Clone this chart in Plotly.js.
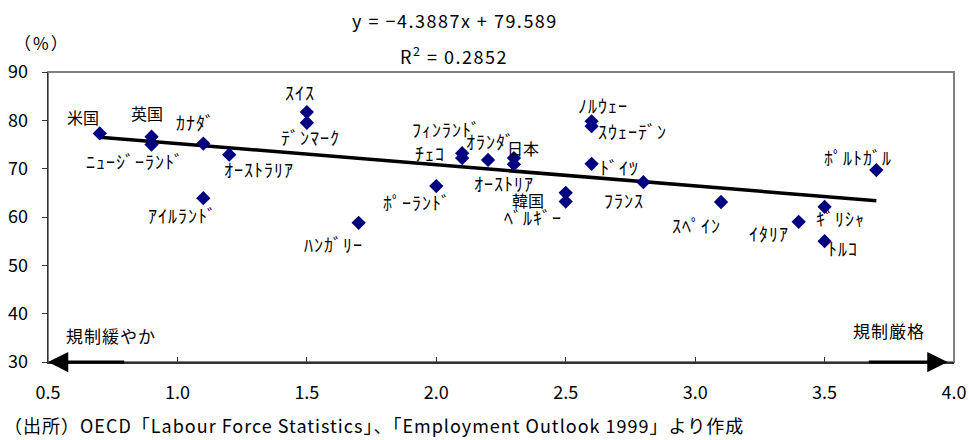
<!DOCTYPE html>
<html>
<head>
<meta charset="utf-8">
<script src="https://cdn.plot.ly/plotly-3.0.1.min.js"></script>
<style>
  html, body { margin: 0; padding: 0; background: #fff; }
  #chart { width: 969px; height: 440px; }
</style>
</head>
<body>
<div id="chart"></div>
<script>
// 雇用保護規制の強さ（横軸）と就業率（縦軸, %）
const countries = ['米国', '英国', 'ﾆｭｰｼﾞｰﾗﾝﾄﾞ', 'ｶﾅﾀﾞ', 'ｱｲﾙﾗﾝﾄﾞ', 'ｵｰｽﾄﾗﾘｱ',
  'ｽｲｽ', 'ﾃﾞﾝﾏｰｸ', 'ﾊﾝｶﾞﾘｰ', 'ﾎﾟｰﾗﾝﾄﾞ', 'ﾌｨﾝﾗﾝﾄﾞ', 'ﾁｪｺ', 'ｵﾗﾝﾀﾞ', '日本',
  'ｵｰｽﾄﾘｱ', '韓国', 'ﾍﾞﾙｷﾞｰ', 'ﾉﾙｳｪｰ', 'ｽｳｪｰﾃﾞﾝ', 'ﾄﾞｲﾂ', 'ﾌﾗﾝｽ', 'ｽﾍﾟｲﾝ',
  'ｲﾀﾘｱ', 'ｷﾞﾘｼｬ', 'ﾄﾙｺ', 'ﾎﾟﾙﾄｶﾞﾙ'];
const regulation = [0.7, 0.9, 0.9, 1.1, 1.1, 1.2, 1.5, 1.5, 1.7, 2.0, 2.1, 2.1, 2.2, 2.3,
  2.3, 2.5, 2.5, 2.6, 2.6, 2.6, 2.8, 3.1, 3.4, 3.5, 3.5, 3.7];
const employment = [77.3, 76.6, 75.0, 75.2, 63.9, 72.9, 81.7, 79.5, 58.8, 66.4, 73.2, 72.2,
  71.8, 72.2, 70.9, 65.0, 63.2, 79.8, 78.8, 71.0, 67.2, 63.1, 59.0, 62.1, 55.0, 69.7];

// 回帰式 y = a x + b と決定係数
const slope = -4.3887;
const intercept = 79.589;
const rSquared = 0.2852;

const xTicks = [0.5, 1.0, 1.5, 2.0, 2.5, 3.0, 3.5, 4.0];
const yTicks = [30, 40, 50, 60, 70, 80, 90];

// ラベルの位置（点からのピクセルずれ: [右, 下]）
const labelOffsets = [[-17, -16], [-5, -24], [-17, 16], [-8, -22], [-21, 17], [30, 14],
  [-7, -20], [4, 14], [-25, 21], [-19, 16], [-16, -24], [-32, -5], [2, -19], [9, -10],
  [-10, 19], [-38, 7], [-33, 15], [11, -16], [41, 5], [28, 3], [-19, 18], [-25, 23],
  [-30, 11], [16, 11], [18, 7], [-18, -13]];

const JP = '"Noto Sans CJK JP", "Noto Sans", sans-serif';

// 字間を広げた文字列
const spaced = (s, px) => '<span style="letter-spacing:' + px + 'px">' + s + '</span>';

const xMin = Math.min(...regulation);
const xMax = Math.max(...regulation);
const trend = {
  x: [xMin, xMax],
  y: [slope * xMin + intercept, slope * xMax + intercept],
  mode: 'lines',
  line: { color: '#000000', width: 3.5 },
  hoverinfo: 'skip',
  showlegend: false
};

const points = {
  x: regulation,
  y: employment,
  text: countries,
  mode: 'markers',
  marker: { symbol: 'diamond', size: 11, color: '#000080' },
  showlegend: false
};

const isKanji = s => /[\u4e00-\u9fff]/.test(s);

const labels = countries.map((name, i) => ({
  x: regulation[i],
  y: employment[i],
  xref: 'x', yref: 'y',
  text: isKanji(name) ? name : spaced(name, 1),
  showarrow: false,
  xanchor: 'center', yanchor: 'middle',
  xshift: labelOffsets[i][0],
  yshift: -labelOffsets[i][1],
  font: { family: JP, size: isKanji(name) ? 16 : 18, color: '#000' }
}));

const fmt = v => (v < 0 ? '\u2212' + Math.abs(v) : String(v));

const note = (x, y, text, size, anchor) => ({
  xref: 'paper', yref: 'paper', x: x, y: y, text: text,
  xanchor: anchor || 'center', yanchor: 'middle',
  showarrow: false, font: { family: JP, size: size, color: '#000' }
});

const extras = [
  note(0.449, 1.179, spaced('y = ' + fmt(slope) + 'x + ' + intercept, 1.5), 18),
  note(0.448, 1.059, spaced('R<sup>2</sup> = ' + rSquared, 1.5), 18),
  note(-0.0066, 1.1, spaced('（%）', 2), 17),
  note(0.0695, 0.09, spaced('規制緩やか', 1), 17),
  note(0.928, 0.107, spaced('規制厳格', 1), 17),
  note(-0.0508, -0.217,
    spaced('（出所）OECD「Labour Force Statistics」、「Employment Outlook 1999」より作成', 1), 18, 'left'),
  // 軸上の矢印（規制の緩→厳）
  { xref: 'x', yref: 'y', axref: 'x', ayref: 'y', x: 0.5, y: 30, ax: 0.8, ay: 30, text: '',
    showarrow: true, arrowhead: 2, arrowsize: 1.35, arrowwidth: 3, arrowcolor: '#000', standoff: 0 },
  { xref: 'x', yref: 'y', axref: 'x', ayref: 'y', x: 3.975, y: 30, ax: 3.665, ay: 30, text: '',
    showarrow: true, arrowhead: 2, arrowsize: 1.35, arrowwidth: 3, arrowcolor: '#000', standoff: 0 }
];

const layout = {
  width: 969,
  height: 440,
  margin: { l: 48, r: 15, t: 72, b: 78 },
  paper_bgcolor: '#ffffff',
  plot_bgcolor: '#ffffff',
  font: { family: JP, color: '#000' },
  xaxis: {
    range: [0.5, 4.0],
    tickvals: xTicks,
    ticktext: xTicks.map(v => v.toFixed(1)),
    ticks: 'inside', ticklen: 5, tickwidth: 1, tickcolor: '#333',
    showline: true, linecolor: '#333', linewidth: 1.5,
    showgrid: false, zeroline: false,
    ticklabelstandoff: 14,
    tickfont: { family: JP, size: 18, color: '#000' }
  },
  yaxis: {
    range: [30, 90],
    tickvals: yTicks,
    ticks: 'outside', ticklen: 5, tickwidth: 1, tickcolor: '#333',
    showline: true, linecolor: '#333', linewidth: 1.5,
    showgrid: false, zeroline: false,
    ticklabelstandoff: 10,
    tickfont: { family: JP, size: 18, color: '#000' }
  },
  shapes: [
    { type: 'rect', xref: 'paper', yref: 'paper', x0: 0, x1: 1, y0: 0, y1: 1,
      line: { color: '#808080', width: 2 }, layer: 'below' }
  ],
  annotations: labels.concat(extras),
  showlegend: false
};

Plotly.newPlot('chart', [trend, points], layout, { displayModeBar: false, staticPlot: true });
</script>
</body>
</html>
